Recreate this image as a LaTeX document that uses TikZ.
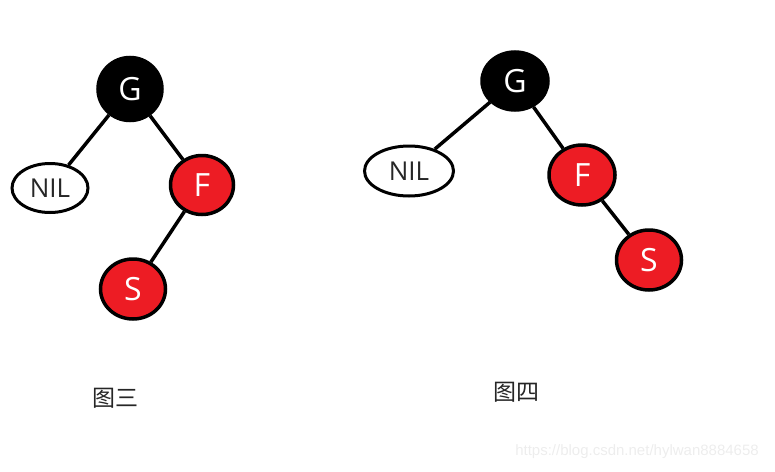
\documentclass[tikz,border=0pt]{standalone}
\usepackage{fontspec}
\setmainfont{Open Sans}
\newfontfamily\cjk{Noto Sans CJK SC}
\newfontfamily\wm{Liberation Sans}
\usetikzlibrary{shapes.geometric}
\definecolor{nodered}{RGB}{237,28,36}
\begin{document}
\begin{tikzpicture}[x=1pt,y=-1pt]
      \tikzstyle{vertex}=[draw,ellipse,line width=3.5pt,inner sep=0pt,font=\fontsize{32}{32}\selectfont,text=white]
      \tikzstyle{blk}=[vertex,fill=black]
      \tikzstyle{rd}=[vertex,fill=nodered]
      \tikzstyle{nil}=[draw,ellipse,line width=3pt,inner sep=0pt,font=\fontsize{26}{26}\selectfont,text=black!85]
      \tikzstyle{link}=[draw,line width=3.5pt]
      \useasboundingbox (0,0) rectangle (775,471);
      % left tree
      \node[blk,minimum width=64pt,minimum height=63pt] (G1) at (130,89) {G};
      \node[nil,minimum width=76pt,minimum height=49pt] (N1) at (50,188) {NIL};
      \node[rd,minimum width=63pt,minimum height=59pt] (F1) at (202,185) {F};
      \node[rd,minimum width=65pt,minimum height=60pt] (S1) at (133,289) {S};
      \path[link] (G1) -- (N1);
      \path[link] (G1) -- (F1);
      \path[link] (F1) -- (S1);
      \node[font=\cjk\fontsize{23}{23}\selectfont,text=black!85] (L1) at (115,398) {图三};
      % right tree
      \node[blk,minimum width=66pt,minimum height=58pt] (G2) at (515,81) {G};
      \node[nil,minimum width=89pt,minimum height=50pt] (N2) at (409,171) {NIL};
      \node[rd,minimum width=66pt,minimum height=60pt] (F2) at (582,175) {F};
      \node[rd,minimum width=65pt,minimum height=60pt] (S2) at (649,260) {S};
      \path[link] (G2) -- (N2);
      \path[link] (G2) -- (F2);
      \path[link] (F2) -- (S2);
      \node[font=\cjk\fontsize{23}{23}\selectfont,text=black!85] (L2) at (516,392) {图四};
      \node[font=\wm\fontsize{15}{15}\selectfont,text=black!7] (W) at (637,452) {https://blog.csdn.net/hylwan8884658};
    \end{tikzpicture}
\end{document}
